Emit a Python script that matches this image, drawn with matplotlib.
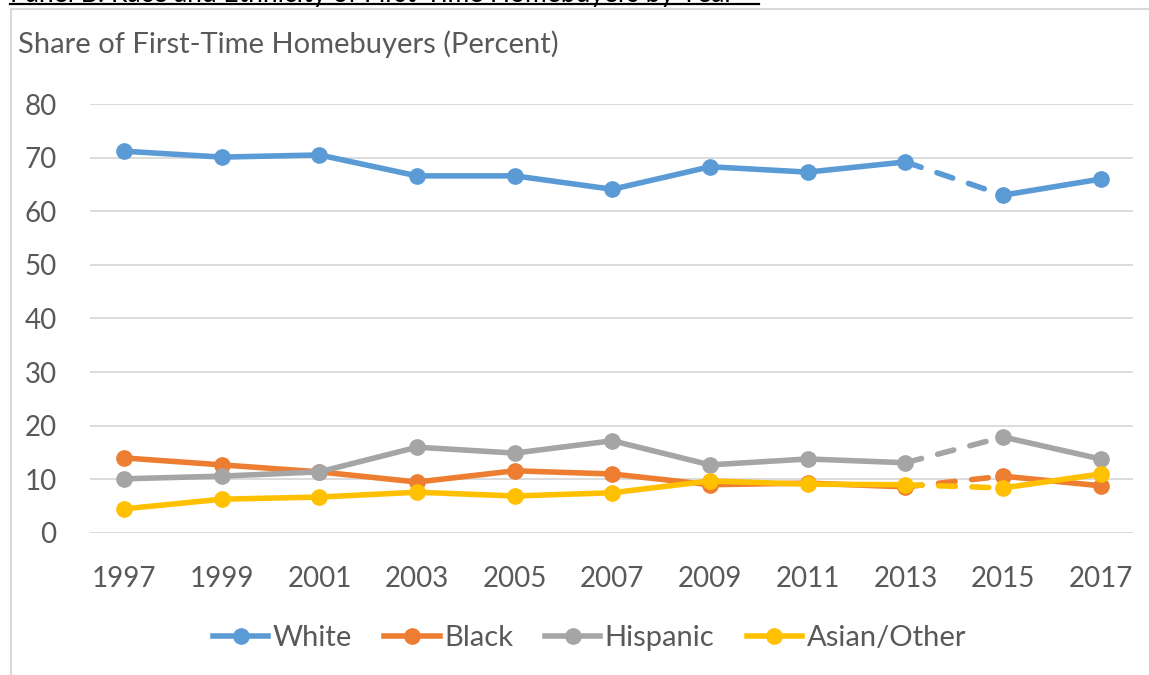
import numpy as np
import matplotlib.pyplot as plt
from matplotlib.lines import Line2D

plt.rcParams['font.family'] = ['Lato', 'DejaVu Sans']

years = [1997, 1999, 2001, 2003, 2005, 2007, 2009, 2011, 2013, 2015, 2017]
white = [71.2, 70.1, 70.5, 66.6, 66.6, 64.1, 68.3, 67.3, 69.2, 63.0, 66.0]
black = [14.0, 12.7, 11.4, 9.5, 11.6, 11.0, 9.0, 9.3, 8.6, 10.6, 8.8]
hispanic = [10.1, 10.6, 11.4, 16.0, 14.9, 17.2, 12.7, 13.8, 13.1, 17.9, 13.8]
asian = [4.5, 6.3, 6.7, 7.6, 6.9, 7.5, 9.7, 9.1, 9.0, 8.4, 11.0]

names = ["White", "Black", "Hispanic", "Asian/Other"]
colors = ["#5B9BD5", "#ED7D31", "#A5A5A5", "#FFC000"]
series = [white, black, hispanic, asian]

txt = "#595959"

fig = plt.figure(figsize=(11.49, 6.75), dpi=100)
ax = fig.add_axes([0.0783, 0.2104, 0.9077, 0.6355])

x = np.arange(len(years))
gap = years.index(2013)  # dashed between 2013 and 2015
for vals, c in zip(series, colors):
    v = np.array(vals)
    ax.plot(x[:gap + 1], v[:gap + 1], color=c, lw=4, marker="o", ms=11,
            solid_capstyle="round", clip_on=False)
    ax.plot(x[gap:gap + 2], v[gap:gap + 2], color=c, lw=4,
            dashes=(3.0, 3.0), dash_capstyle="round", clip_on=False)
    ax.plot(x[gap + 1:], v[gap + 1:], color=c, lw=4, marker="o", ms=11,
            solid_capstyle="round", clip_on=False)

ax.set_xlim(-0.35, len(years) - 1 + 0.33)
ax.set_ylim(0, 80)
ax.set_yticks(range(0, 81, 10))
ax.set_xticks(x)
ax.set_xticklabels([str(y) for y in years])
ax.grid(axis="y", color="#D9D9D9", lw=1.3)
ax.set_axisbelow(True)
for s in ax.spines.values():
    s.set_visible(False)
ax.tick_params(length=0, labelsize=20, colors=txt, pad=24)
ax.tick_params(axis="y", pad=24)

handles = [Line2D([], [], color=c, lw=4, marker="o", ms=11) for c in colors]
fig.legend(handles, names, loc="center", bbox_to_anchor=(0.513, 0.055), ncol=4,
           frameon=False, fontsize=21, labelcolor=txt, handlelength=1.9,
           handletextpad=0.15, columnspacing=1.1)

fig.text(0.016, 0.935, "Share of First-Time Homebuyers (Percent)", fontsize=21,
         color=txt, va="center")

# border of the chart area, clipped title of the panel above
fig.add_artist(Line2D([0.0096, 0.0096], [0, 0.987], color="#D9D9D9", lw=1.5))
fig.add_artist(Line2D([0.0096, 1.0], [0.987, 0.987], color="#D9D9D9", lw=1.5))
fig.text(0.009, 0.9975, "Panel B: Race and Ethnicity of First-Time Homebuyers by Year",
         fontsize=19, color="black", va="baseline")
fig.add_artist(Line2D([0.009, 0.661], [0.9935, 0.9935], color="black", lw=1.6))

fig.savefig("out.png", dpi=100)
